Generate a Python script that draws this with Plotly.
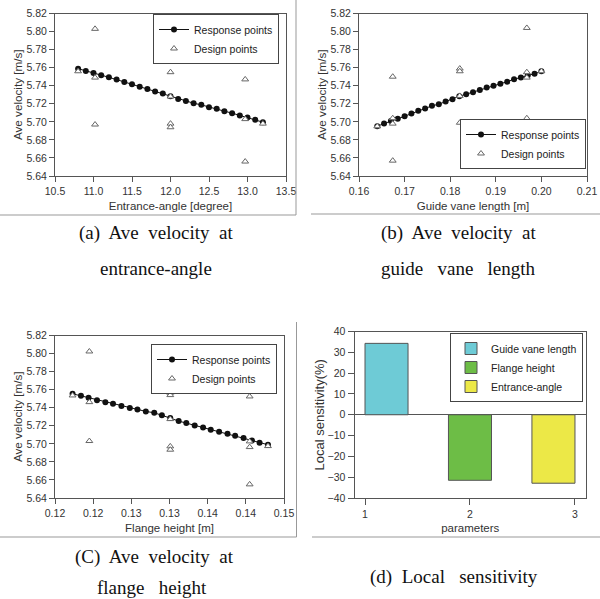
import plotly.graph_objects as go

# ---------------- data ----------------
# (a) entrance angle
a_resp_x = [10.8, 10.9, 11.0, 11.1, 11.2, 11.3, 11.4, 11.5, 11.6, 11.7, 11.8, 11.9, 12.0,
            12.1, 12.2, 12.3, 12.4, 12.5, 12.6, 12.7, 12.8, 12.9, 13.0, 13.1, 13.2]
a_resp_y = [5.7589, 5.7563, 5.7541, 5.7515, 5.7493, 5.7468, 5.7442, 5.7416, 5.7390, 5.7364,
            5.7335, 5.7313, 5.7283, 5.7254, 5.7232, 5.7206, 5.7188, 5.7162, 5.7144, 5.7118,
            5.7096, 5.7070, 5.7048, 5.7022, 5.6996]
a_design_x = [10.8, 11.02, 11.02, 11.02, 12.0, 12.0, 12.0, 12.0, 12.97, 12.97, 12.97, 13.2]
a_design_y = [5.756, 5.803, 5.749, 5.697, 5.755, 5.728, 5.698, 5.694, 5.747, 5.703, 5.656, 5.698]

# (b) guide vane length
b_resp_x = [0.164, 0.1655, 0.167, 0.1685, 0.170, 0.1715, 0.173, 0.1745, 0.176, 0.1775, 0.179,
            0.1805, 0.182, 0.1835, 0.185, 0.1865, 0.188, 0.1895, 0.191, 0.1925, 0.194, 0.1955,
            0.197, 0.1985, 0.200]
b_resp_y = [5.6952, 5.6982, 5.7008, 5.7033, 5.7063, 5.7092, 5.7122, 5.7147, 5.7177, 5.7195,
            5.7225, 5.7250, 5.7284, 5.7306, 5.7328, 5.7353, 5.7379, 5.7401, 5.7423, 5.7445,
            5.7471, 5.7490, 5.7512, 5.7534, 5.7560]
b_design_x = [0.164, 0.1674, 0.1674, 0.1674, 0.1674, 0.1821, 0.1821, 0.1821, 0.1821,
              0.1968, 0.1968, 0.1968, 0.1968, 0.200]
b_design_y = [5.695, 5.750, 5.704, 5.698, 5.657, 5.759, 5.756, 5.7287, 5.699,
              5.804, 5.755, 5.749, 5.704, 5.756]

# (c) flange height
c_resp_x = [0.1173, 0.1184, 0.1194, 0.1205, 0.1216, 0.1226, 0.1237, 0.1248, 0.1258, 0.1269,
            0.1280, 0.1290, 0.1301, 0.1312, 0.1322, 0.1333, 0.1344, 0.1354, 0.1365, 0.1376,
            0.1386, 0.1397, 0.1408, 0.1418, 0.1429]
c_resp_y = [5.7554, 5.7532, 5.7510, 5.7484, 5.7462, 5.7444, 5.7418, 5.7396, 5.7381, 5.7359,
            5.7344, 5.7318, 5.7285, 5.7252, 5.7230, 5.7204, 5.7182, 5.7156, 5.7134, 5.7112,
            5.7090, 5.7064, 5.7038, 5.7012, 5.6990]
c_design_x = [0.1173, 0.1195, 0.1195, 0.1195, 0.1301, 0.1301, 0.1301, 0.1301, 0.1301,
              0.1405, 0.1405, 0.1405, 0.1405, 0.1429]
c_design_y = [5.7536, 5.8023, 5.7462, 5.7031, 5.7566, 5.754, 5.7274, 5.6972, 5.6935,
              5.7525, 5.7027, 5.6964, 5.6551, 5.6975]
c_tickvals = [0.115, 0.120, 0.125, 0.130, 0.135, 0.140, 0.145]
c_ticktext = ["0.12", "0.12", "0.13", "0.13", "0.14", "0.14", "0.15"]

# (d) local sensitivity
d_params = [1, 2, 3]
d_names = ["Guide vane length", "Flange height", "Entrance-angle"]
d_sens = [34.3, -31.5, -32.9]
d_colors = ["#6ecbd6", "#6dbd46", "#ece847"]
d_offsets = [0.0, -0.205, -0.41]

# ---------------- helpers ----------------
W, H = 600, 599
def px(p):
    return p / W
def py(p):
    return 1 - p / H

SANS = "Liberation Sans, Arial, sans-serif"
SERIF = "Liberation Serif, Times New Roman, serif"

fig = go.Figure()

resp_style = dict(mode="lines+markers", line=dict(color="#111", width=1),
                  marker=dict(symbol="circle", size=6, color="#111"))
design_style = dict(mode="markers",
                    marker=dict(symbol="triangle-up", size=6, color="white",
                                line=dict(color="#666", width=1)))

panels = [
    (a_resp_x, a_resp_y, a_design_x, a_design_y, "x", "y", "legend"),
    (b_resp_x, b_resp_y, b_design_x, b_design_y, "x2", "y2", "legend2"),
    (c_resp_x, c_resp_y, c_design_x, c_design_y, "x3", "y3", "legend3"),
]
for rx, ry, dx, dy, xa, ya, lg in panels:
    fig.add_trace(go.Scatter(x=rx, y=ry, name="Response points", xaxis=xa, yaxis=ya,
                             legend=lg, **resp_style))
    fig.add_trace(go.Scatter(x=dx, y=dy, name="Design points", xaxis=xa, yaxis=ya,
                             legend=lg, **design_style))

for p, n, v, c, o in zip(d_params, d_names, d_sens, d_colors, d_offsets):
    fig.add_trace(go.Bar(x=[p], y=[v], name=n, width=0.41, offset=o, xaxis="x4", yaxis="y4",
                         legend="legend4",
                         marker=dict(color=c, line=dict(color="#555", width=1))))

tickfont = dict(family=SANS, size=10.5, color="#333")
titlefont = dict(family=SANS, size=11.5, color="#333")

def axis(domain, anchor, rng, title, standoff, ticklen=5, **kw):
    d = dict(domain=domain, anchor=anchor, range=rng, showline=True, mirror=True,
             linecolor="#555", linewidth=1, ticks="outside", ticklen=ticklen,
             tickcolor="#555", tickwidth=1, tickfont=tickfont, showgrid=False,
             zeroline=False, automargin=False,
             title=dict(text=title, font=titlefont, standoff=standoff))
    d.update(kw)
    return d

ytf = dict(family=SANS, size=11.7, color="#333")

layout = dict(
    width=W, height=H, margin=dict(l=0, r=0, t=0, b=0),
    paper_bgcolor="white", plot_bgcolor="white", barmode="overlay",
    xaxis=axis([px(55), px(286)], "y", [10.5, 13.5], "Entrance-angle [degree]", 6,
               dtick=0.5, tick0=10.5, tickformat=".1f"),
    yaxis=axis([py(176), py(13.5)], "x", [5.64, 5.82], "Ave velocity [m/s]", 1,
               dtick=0.02, tick0=5.64, tickformat=".2f"),
    xaxis2=axis([px(359), px(587)], "y2", [0.16, 0.21], "Guide vane length [m]", 6,
                dtick=0.01, tick0=0.16, tickformat=".2f"),
    yaxis2=axis([py(176), py(13.5)], "x2", [5.64, 5.82], "Ave velocity [m/s]", 1,
                dtick=0.02, tick0=5.64, tickformat=".2f"),
    xaxis3=axis([px(55), px(284)], "y3", [0.115, 0.145], "Flange height [m]", 6,
                tickmode="array", tickvals=c_tickvals, ticktext=c_ticktext),
    yaxis3=axis([py(498), py(335.5)], "x3", [5.64, 5.82], "Ave velocity [m/s]", 1,
                dtick=0.02, tick0=5.64, tickformat=".2f"),
    xaxis4=axis([px(354.5), px(586)], "y4", [0.9, 3.105], "parameters", 5, ticklen=6,
                tickmode="array", tickvals=d_params, ticktext=[str(p) for p in d_params]),
    yaxis4=axis([py(498), py(331.5)], "x4", [-40, 40], "Local sensitivity(%)", 0, ticklen=6,
                dtick=10, tick0=-40, zeroline=True, zerolinecolor="#555", zerolinewidth=1),
)
layout["yaxis"]["title"]["font"] = ytf
layout["yaxis2"]["title"]["font"] = ytf
layout["yaxis3"]["title"]["font"] = ytf
layout["yaxis4"]["title"]["font"] = dict(family=SANS, size=13, color="#333")

legfont = dict(family=SANS, size=10.5, color="#222")
def leg(x, y, yanchor="top"):
    return dict(x=x, y=y, xanchor="right", yanchor=yanchor, xref="paper", yref="paper",
                bgcolor="white", bordercolor="#444", borderwidth=1, font=legfont,
                itemwidth=30, tracegroupgap=0)

layout["legend"] = leg(px(279), py(14))
layout["legend2"] = leg(px(586), py(169), "bottom")
layout["legend3"] = leg(px(277), py(344))
layout["legend4"] = leg(px(583), py(333))

fig.update_layout(**layout)

# captions
caps = [
    ("(a)\u00a0 Ave\u00a0 velocity\u00a0 at", 156, 233),
    ("entrance-angle", 156, 268),
    ("(b)\u00a0 Ave\u00a0 velocity\u00a0 at", 458, 233),
    ("guide\u00a0\u00a0 vane\u00a0\u00a0 length", 458, 268),
    ("(C)\u00a0 Ave\u00a0 velocity\u00a0 at", 154.5, 557),
    ("flange\u00a0\u00a0 height", 152, 587),
    ("(d)\u00a0 Local\u00a0\u00a0 sensitivity", 454, 577),
]
for t, cx, cy in caps:
    fig.add_annotation(text=t, x=px(cx), y=py(cy), xref="paper", yref="paper",
                       xanchor="center", yanchor="middle", showarrow=False,
                       font=dict(family=SERIF, size=19, color="#111"))

# frame lines of the sub-figures
frame = [
    (296, 0, 296, 215), (0, 215, 296, 215),
    (311, 214, 600, 214),
    (296.5, 322, 296.5, 537), (0, 537, 296.5, 537),
    (312, 537, 600, 537),
]
for x0, y0, x1, y1 in frame:
    fig.add_shape(type="line", xref="paper", yref="paper", x0=px(x0), y0=py(y0),
                  x1=px(x1), y1=py(y1), line=dict(color="#999", width=1))

fig.write_html("out.html")
